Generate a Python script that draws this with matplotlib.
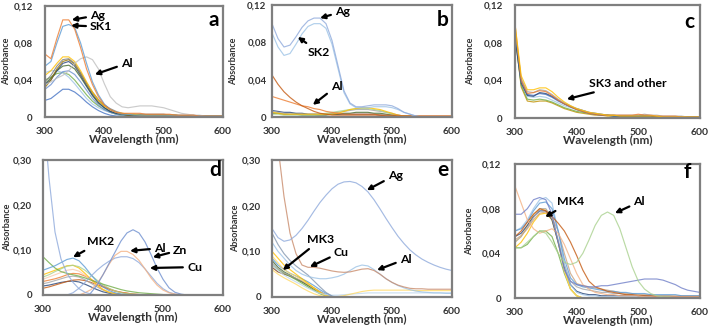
import matplotlib
matplotlib.use("Agg")
import matplotlib.pyplot as plt

plt.rcParams['font.family'] = ['Lato', 'DejaVu Sans']

X = list(range(300, 601, 10))

# ---------------- panel a ----------------
a_ag  = [.068,.063,.085,.105,.105,.095,.075,.052,.035,.022,.013,.008,.005,.004,.004,.004,.004,.003,.003,.003,.003,.003,.002,.002,.002,.002,.001,.001,.001,.001,.001]
a_sk1 = [.055,.060,.080,.098,.100,.097,.080,.058,.038,.024,.014,.008,.005,.003,.003,.002,.002,.002,.002,.002,.002,.002,.002,.001,.001,.001,.001,.001,.001,.001,.001]
a_al  = [.035,.038,.042,.045,.050,.058,.063,.065,.062,.052,.036,.022,.015,.011,.010,.011,.012,.012,.012,.011,.010,.008,.006,.004,.003,.002,.002,.001,.001,.001,.001]
a_c1  = [.045,.050,.058,.065,.065,.060,.050,.038,.027,.018,.012,.008,.005,.004,.003,.003,.002,.002,.002,.002,.002,.002,.002,.001,.001,.001,.001,.001,.001,.001,.001]
a_c2  = [.035,.040,.050,.058,.060,.055,.045,.034,.024,.016,.010,.006,.004,.003,.002,.002,.002,.001,.001,.001,.001,.001,.001,.001,.001,.001,.001,.001,.001,.001,.001]
a_c3  = [.040,.043,.047,.048,.046,.040,.032,.024,.017,.012,.008,.005,.003,.002,.002,.001,.001,.001,.001,.001,.001,.001,.001,.001,.001,.001,.001,.001,.001,.001,.001]
a_c4  = [.018,.020,.025,.030,.030,.027,.022,.016,.011,.007,.004,.002,.001,.001,.000,.000,.000,.000,.000,.000,.000,.000,.000,.000,.000,.000,.000,.000,.000,.000,.000]
a_c5  = [.038,.045,.055,.062,.063,.058,.048,.037,.027,.019,.013,.009,.006,.004,.003,.003,.003,.003,.003,.003,.003,.002,.002,.002,.002,.002,.001,.001,.001,.001,.001]
a_c6  = [.048,.050,.050,.048,.043,.036,.028,.020,.014,.010,.007,.005,.004,.003,.002,.002,.002,.002,.002,.001,.001,.001,.001,.001,.001,.001,.001,.001,.001,.001,.001]
a_c7  = [.032,.040,.052,.060,.062,.057,.047,.036,.026,.018,.012,.008,.005,.003,.002,.002,.002,.002,.002,.002,.002,.002,.002,.001,.001,.001,.001,.001,.001,.001,.001]
a_c8  = [.036,.042,.050,.055,.056,.052,.043,.033,.023,.015,.010,.006,.004,.003,.002,.002,.002,.002,.002,.002,.002,.001,.001,.001,.001,.001,.001,.001,.001,.001,.001]
a_c9  = [.030,.035,.043,.049,.050,.046,.038,.029,.020,.013,.008,.005,.003,.002,.002,.001,.001,.001,.001,.001,.001,.001,.001,.001,.001,.001,.001,.001,.001,.001,.001]
a_curves = [a_c4, a_c3, a_c6, a_c9, a_c8, a_c2, a_c7, a_c5, a_c1, a_al, a_sk1, a_ag]
a_colors = ['#4472C4', '#70AD47', '#9DC3E6', '#698ED0', '#43682B', '#264478', '#997300', '#7F7F7F', '#FFC000', '#BFBFBF', '#5B9BD5', '#ED7D31']

# ---------------- panel b ----------------
b_ag  = [.100,.084,.075,.077,.086,.096,.103,.106,.106,.100,.082,.055,.028,.015,.011,.011,.012,.013,.013,.013,.012,.009,.005,.003,.001,.000,.000,.000,.000,.000,.000]
b_sk2 = [.090,.075,.066,.068,.078,.089,.097,.100,.100,.095,.078,.052,.026,.014,.010,.010,.010,.011,.011,.011,.010,.008,.005,.003,.001,.000,.000,.000,.000,.000,.000]
b_o1  = [.045,.035,.027,.021,.016,.012,.009,.006,.004,.003,.002,.002,.002,.002,.002,.002,.002,.002,.002,.001,.001,.001,.001,.001,.001,.001,.001,.001,.001,.001,.001]
b_o2  = [.022,.020,.018,.016,.014,.012,.011,.009,.008,.006,.005,.004,.003,.003,.003,.003,.003,.003,.002,.002,.002,.002,.001,.001,.001,.001,.001,.001,.001,.001,.001]
b_y1  = [.005,.004,.003,.003,.003,.003,.003,.003,.003,.003,.003,.004,.006,.008,.009,.010,.010,.009,.008,.006,.004,.002,.001,.001,.000,.000,.000,.000,.000,.000,.000]
b_g1  = [.006,.005,.004,.003,.003,.003,.003,.003,.003,.003,.004,.005,.006,.007,.008,.008,.008,.007,.006,.005,.004,.002,.001,.001,.000,.000,.000,.000,.000,.000,.000]
b_gr  = [.004,.004,.003,.003,.003,.002,.002,.002,.002,.002,.003,.003,.004,.004,.005,.005,.005,.004,.004,.003,.002,.001,.001,.000,.000,.000,.000,.000,.000,.000,.000]
b_db  = [.007,.006,.005,.005,.004,.004,.003,.003,.003,.003,.003,.003,.003,.003,.003,.003,.003,.003,.002,.002,.002,.001,.001,.001,.000,.000,.000,.000,.000,.000,.000]
b_lg  = [.003,.003,.002,.002,.002,.002,.002,.002,.003,.004,.005,.006,.007,.008,.009,.009,.009,.008,.007,.005,.003,.002,.001,.000,.000,.000,.000,.000,.000,.000,.000]
b_curves = [b_db, b_gr, b_g1, b_lg, b_y1, b_o2, b_o1, b_sk2, b_ag]
b_colors = ['#264478', '#43682B', '#A5A5A5', '#A9D18E', '#FFC000', '#ED7D31', '#C55A11', '#9DC3E6', '#8FAADC']

# ---------------- panel c ----------------
c_1 = [.100,.045,.030,.030,.032,.032,.028,.022,.017,.013,.010,.008,.006,.005,.004,.003,.003,.002,.002,.002,.002,.002,.002,.002,.001,.001,.001,.001,.001,.001,.001]
c_2 = [.095,.042,.028,.027,.030,.029,.025,.020,.016,.013,.010,.008,.006,.005,.004,.003,.003,.003,.003,.003,.003,.004,.003,.003,.002,.002,.002,.002,.001,.001,.001]
c_3 = [.090,.040,.025,.024,.026,.025,.022,.018,.015,.012,.010,.008,.006,.005,.004,.003,.003,.002,.002,.002,.002,.002,.002,.001,.001,.001,.001,.001,.001,.001,.001]
c_4 = [.092,.038,.023,.022,.023,.022,.019,.016,.013,.011,.009,.007,.005,.004,.003,.003,.002,.002,.002,.002,.002,.002,.002,.001,.001,.001,.001,.001,.001,.001,.001]
c_5 = [.088,.035,.020,.019,.020,.019,.017,.014,.011,.009,.007,.006,.005,.004,.003,.003,.002,.002,.002,.002,.002,.002,.002,.001,.001,.001,.001,.001,.001,.001,.001]
c_6 = [.100,.040,.026,.027,.029,.028,.024,.019,.015,.012,.009,.007,.005,.004,.003,.003,.003,.003,.003,.003,.004,.003,.003,.002,.002,.002,.002,.001,.001,.001,.001]
c_7 = [.085,.037,.024,.023,.027,.026,.023,.019,.015,.012,.009,.007,.005,.004,.003,.003,.002,.002,.002,.002,.002,.002,.002,.001,.001,.001,.001,.001,.001,.001,.001]
c_8 = [.090,.033,.018,.017,.018,.018,.016,.013,.010,.008,.006,.005,.004,.003,.003,.002,.002,.002,.002,.002,.002,.002,.002,.001,.001,.001,.001,.001,.001,.001,.001]
c_curves = [c_8, c_5, c_4, c_3, c_7, c_2, c_6, c_1]
c_colors = ['#BF9000', '#70AD47', '#9DC3E6', '#4472C4', '#264478', '#A5A5A5', '#ED7D31', '#FFC000']

# ---------------- panel d ----------------
d_steep = [.420,.260,.140,.080,.048,.028,.014,.006,.002,.000,.000,.000,.000,.000,.000,.000,.000,.000,.000,.000,.000,.000,.000,.000,.000,.000,.000,.000,.000,.000,.000]
d_al  = [-.05,-.05,-.05,-.05,-.04,-.03,-.02,-.01,.005,.022,.045,.070,.095,.120,.138,.145,.138,.118,.090,.060,.035,.016,.006,.002,.000,.000,.000,.000,.000,.000,.000]
d_zn  = [-.03,-.03,-.03,-.02,-.01,-.005,.000,.005,.012,.025,.045,.068,.088,.097,.097,.090,.077,.058,.038,.022,.011,.005,.002,.001,.000,.000,.000,.000,.000,.000,.000]
d_cu  = [-.03,-.02,-.01,-.005,.000,.005,.015,.028,.042,.055,.066,.075,.082,.085,.085,.081,.072,.058,.042,.026,.014,.006,.002,.000,.000,.000,.000,.000,.000,.000,.000]
d_m1  = [.055,.060,.065,.072,.079,.082,.076,.062,.045,.030,.018,.010,.005,.002,.001,.000,.000,.000,.000,.000,.000,.000,.000,.000,.000,.000,.000,.000,.000,.000,.000]
d_m2  = [.085,.072,.060,.052,.048,.045,.042,.038,.033,.028,.024,.020,.016,.012,.009,.007,.005,.004,.003,.002,.001,.000,.000,.000,.000,.000,.000,.000,.000,.000,.000]
d_m3  = [.045,.050,.055,.060,.065,.066,.060,.048,.035,.022,.012,.006,.003,.001,.000,.000,.000,.000,.000,.000,.000,.000,.000,.000,.000,.000,.000,.000,.000,.000,.000]
d_m4  = [.040,.045,.052,.058,.064,.066,.063,.055,.044,.033,.023,.015,.009,.005,.003,.002,.001,.000,.000,.000,.000,.000,.000,.000,.000,.000,.000,.000,.000,.000,.000]
d_m5  = [.030,.033,.036,.040,.045,.048,.047,.042,.035,.027,.020,.014,.009,.006,.004,.002,.001,.000,.000,.000,.000,.000,.000,.000,.000,.000,.000,.000,.000,.000,.000]
d_m6  = [.025,.028,.032,.036,.040,.042,.040,.034,.026,.018,.011,.006,.003,.001,.000,.000,.000,.000,.000,.000,.000,.000,.000,.000,.000,.000,.000,.000,.000,.000,.000]
d_m7  = [.020,.022,.025,.028,.030,.031,.029,.024,.018,.012,.007,.004,.002,.001,.000,.000,.000,.000,.000,.000,.000,.000,.000,.000,.000,.000,.000,.000,.000,.000,.000]
d_m8  = [.035,.040,.045,.050,.055,.057,.053,.044,.033,.022,.013,.007,.003,.001,.000,.000,.000,.000,.000,.000,.000,.000,.000,.000,.000,.000,.000,.000,.000,.000,.000]
d_m9  = [.015,.018,.022,.026,.030,.033,.034,.032,.028,.023,.018,.013,.009,.006,.004,.002,.001,.000,.000,.000,.000,.000,.000,.000,.000,.000,.000,.000,.000,.000,.000]
d_curves = [d_m7, d_m9, d_m6, d_m5, d_m8, d_m3, d_m4, d_m2, d_m1, d_cu, d_zn, d_al, d_steep]
d_colors = ['#264478', '#C55A11', '#A5A5A5', '#ED7D31', '#F8CBAD', '#FFC000', '#A9D18E', '#70AD47', '#5B9BD5', '#8FAADC', '#F4B183', '#6E8FCF', '#8FAADC']

# ---------------- panel e ----------------
e_ag  = [.150,.130,.122,.125,.135,.150,.168,.188,.207,.223,.237,.247,.252,.253,.250,.242,.230,.213,.193,.172,.152,.133,.117,.103,.092,.083,.076,.070,.065,.061,.058]
e_cu  = [.450,.330,.220,.140,.095,.070,.065,.065,.063,.060,.057,.055,.054,.055,.058,.061,.062,.058,.050,.040,.032,.026,.022,.019,.018,.018,.017,.017,.017,.017,.017]
e_al  = [.120,.100,.085,.070,.058,.050,.045,.042,.040,.040,.042,.045,.050,.058,.066,.070,.068,.060,.050,.040,.032,.025,.020,.016,.013,.011,.010,.009,.009,.008,.008]
e_gray = [.140,.115,.095,.080,.068,.058,.048,.035,.022,.010,.002,-.003,-.005,-.005,-.004,-.003,-.002,-.001,.000,.000,.000,.000,.000,.000,.000,.000,.000,.000,.000,.000,.000]
e_m1  = [.100,.085,.070,.060,.050,.040,.030,.020,.010,.003,.000,-.002,-.002,-.001,.000,.000,.000,.000,.000,.000,.000,.000,.000,.000,.000,.000,.000,.000,.000,.000,.000]
e_m2  = [.080,.065,.055,.048,.040,.033,.025,.017,.009,.003,.000,-.002,-.003,-.003,-.002,-.001,.000,.000,.000,.000,.000,.000,.000,.000,.000,.000,.000,.000,.000,.000,.000]
e_m3  = [.085,.070,.060,.052,.046,.040,.033,.025,.016,.008,.002,.000,.000,.000,.000,.000,.000,.000,.000,.000,.000,.000,.000,.000,.000,.000,.000,.000,.000,.000,.000]
e_m4  = [.065,.055,.050,.046,.040,.034,.027,.019,.011,.004,.000,-.002,-.002,-.001,.000,.000,.000,.000,.000,.000,.000,.000,.000,.000,.000,.000,.000,.000,.000,.000,.000]
e_m5  = [.070,.060,.052,.045,.038,.030,.022,.014,.007,.002,.000,.000,.000,.000,.000,.000,.000,.000,.000,.000,.000,.000,.000,.000,.000,.000,.000,.000,.000,.000,.000]
e_m6  = [.075,.062,.053,.047,.041,.035,.028,.020,.012,.005,.001,.000,.000,.000,.000,.000,.000,.000,.000,.000,.000,.000,.000,.000,.000,.000,.000,.000,.000,.000,.000]
e_m7  = [.090,.075,.060,.052,.045,.037,.028,.019,.010,.003,.000,.000,.000,.000,.000,.000,.000,.000,.000,.000,.000,.000,.000,.000,.000,.000,.000,.000,.000,.000,.000]
e_yel = [.060,.050,.042,.035,.028,.020,.013,.007,.003,.001,.000,.001,.003,.006,.009,.012,.014,.015,.015,.015,.015,.015,.015,.015,.014,.014,.014,.014,.014,.014,.014]
e_low = [.070,.058,.048,.040,.033,.026,.019,.013,.008,.005,.004,.004,.005,.006,.007,.008,.009,.009,.009,.009,.009,.009,.009,.009,.009,.009,.009,.009,.009,.009,.009]
e_curves = [e_m4, e_m2, e_m5, e_m6, e_m3, e_m7, e_m1, e_low, e_yel, e_gray, e_al, e_cu, e_ag]
e_colors = ['#843C0C', '#43682B', '#70AD47', '#A5A5A5', '#5B9BD5', '#FFD966', '#FFC000', '#BDD7EE', '#FFD966', '#8497B0', '#9DC3E6', '#C98B6B', '#8FAADC']

# ---------------- panel f ----------------
f_al  = [.045,.045,.050,.055,.060,.058,.050,.040,.032,.030,.032,.040,.052,.065,.074,.077,.074,.062,.045,.028,.015,.008,.004,.002,.001,.001,.000,.000,.000,.000,.000]
f_mk4 = [.075,.075,.080,.088,.090,.088,.075,.050,.025,.015,.012,.011,.010,.010,.011,.011,.012,.013,.014,.015,.016,.017,.017,.017,.016,.014,.012,.009,.007,.006,.005]
f_or  = [.100,.085,.070,.062,.058,.060,.062,.058,.048,.035,.022,.012,.008,.005,.004,.003,.003,.002,.002,.002,.002,.001,.001,.001,.001,.001,.001,.001,.001,.001,.001]
f_br  = [.055,.060,.068,.075,.080,.078,.073,.067,.060,.050,.038,.025,.015,.010,.008,.006,.005,.004,.003,.003,.002,.002,.002,.001,.001,.001,.001,.001,.001,.001,.001]
f_c1  = [.060,.063,.070,.080,.088,.090,.085,.060,.030,.012,.005,.003,.002,.002,.001,.001,.001,.001,.001,.001,.001,.001,.001,.001,.001,.001,.001,.001,.001,.001,.001]
f_c2  = [.045,.050,.058,.068,.075,.076,.070,.050,.025,.008,.002,.000,.000,.000,.000,.000,.000,.000,.000,.000,.000,.000,.000,.000,.000,.000,.000,.000,.000,.000,.000]
f_c3  = [.050,.055,.063,.072,.080,.080,.072,.052,.030,.015,.010,.008,.007,.006,.005,.005,.004,.004,.003,.003,.003,.002,.002,.002,.002,.002,.001,.001,.001,.001,.001]
f_c4  = [.055,.058,.065,.073,.078,.078,.070,.050,.028,.012,.006,.004,.003,.003,.002,.002,.002,.002,.002,.002,.002,.002,.001,.001,.001,.001,.001,.001,.001,.001,.001]
f_c5  = [.045,.045,.048,.055,.060,.060,.055,.040,.022,.008,.002,.000,.000,.000,.000,.000,.000,.000,.000,.000,.000,.000,.000,.000,.000,.000,.000,.000,.000,.000,.000]
f_c6  = [.050,.055,.065,.075,.080,.079,.072,.050,.024,.008,.002,.000,.000,.000,.000,.000,.000,.000,.000,.000,.000,.000,.000,.000,.000,.000,.000,.000,.000,.000,.000]
f_c7  = [.060,.062,.068,.078,.085,.086,.080,.060,.035,.018,.012,.010,.009,.008,.007,.006,.006,.005,.005,.004,.004,.004,.003,.003,.003,.003,.003,.002,.002,.002,.002]
f_c8  = [.052,.056,.062,.070,.076,.077,.072,.060,.040,.022,.013,.011,.010,.009,.008,.007,.006,.005,.004,.004,.003,.003,.003,.002,.002,.002,.002,.002,.002,.002,.002]
f_curves = [f_c5, f_c2, f_c6, f_c4, f_c3, f_c8, f_c1, f_c7, f_br, f_or, f_mk4, f_al]
f_colors = ['#70AD47', '#FFC000', '#FFD966', '#264478', '#A5A5A5', '#C9A27E', '#9DC3E6', '#5B9BD5', '#C55A11', '#F4B183', '#6F7FC8', '#A9D18E']

small_ticks = [0, 0.04, 0.08, 0.12]
small_labels = ['0', '0,04', '0,08', '0,12']
big_ticks = [0, 0.10, 0.20, 0.30]
big_labels = ['0', '0,10', '0,20', '0,30']
x_ticks = [300, 400, 500, 600]

W, H = 710, 331
fig = plt.figure(figsize=(W / 100, H / 100), dpi=100)

def rect(l, r, t, b):
    return [l / W, (H - b) / H, (r - l) / W, (b - t) / H]

# (letter, rect, curves, colours, yticks, ylabels, letter pos, ytick pad, ylabel x (axes frac), notes)
panels = [
    ('a', rect(45, 223, 6, 117), a_curves, a_colors, small_ticks, small_labels, (0.95, 0.87), 9, -0.19,
     [('Ag', (376, 0.110), (345, 0.105)), ('SK1', (376, 0.0976), (344, 0.099)), ('Al', (428, 0.058), (384, 0.046))]),
    ('b', rect(272, 452, 5, 117), b_curves, b_colors, small_ticks, small_labels, (0.95, 0.87), 4, -0.19,
     [('Ag', (405, 0.113), (380, 0.106)), ('SK2', (360, 0.0696), (343, 0.0857)), ('Al', (398, 0.033), (368, 0.013))]),
    ('c', rect(515, 700, 5, 118), c_curves, c_colors, small_ticks, small_labels, (0.94, 0.85), 9, -0.215,
     [('SK3 and other', (420, 0.0364), (384, 0.020))]),
    ('d', rect(43, 223, 160, 295), d_curves, d_colors, big_ticks, big_labels, (0.955, 0.925), 8, -0.17,
     [('MK2', (373, 0.118), (350, 0.084)), ('Al', (485, 0.104), (445, 0.098)), ('Zn', (517, 0.100), (483, 0.084)), ('Cu', (540, 0.062), (478, 0.060))]),
    ('e', rect(272, 452, 160, 297), e_curves, e_colors, big_ticks, big_labels, (0.95, 0.93), 8, -0.175,
     [('Ag', (493, 0.267), (458, 0.234)), ('MK3', (358, 0.125), (318, 0.059)), ('Cu', (403, 0.0985), (363, 0.066)), ('Al', (513, 0.083), (475, 0.059))]),
    ('f', rect(515, 700, 164, 298), f_curves, f_colors, small_ticks, small_labels, (0.93, 0.94), 10, -0.22,
     [('MK4', (368, 0.086), (349, 0.0725)), ('Al', (492, 0.086), (462, 0.076))]),
]

for letter, pos, curves, colors, yt, yl, lpos, ypad, ylx, notes in panels:
    ax = fig.add_axes(pos)
    for vals, col in zip(curves, colors):
        ax.plot(X, vals, color=col, lw=0.85, alpha=0.8, solid_joinstyle='round')
    ax.set_xlim(300, 600)
    ax.set_ylim(yt[0], yt[-1])
    ax.set_xticks(x_ticks)
    ax.set_xticklabels([str(v) for v in x_ticks], fontsize=7.5, fontweight='bold', color='#333333')
    ax.set_yticks(yt)
    ax.set_yticklabels(yl, fontsize=7, fontweight='bold', color='#333333')
    ax.tick_params(axis='x', length=0, pad=7)
    ax.tick_params(axis='y', length=0, pad=ypad)
    for s in ax.spines.values():
        s.set_color('#7f7f7f')
        s.set_linewidth(1.6)
    ax.set_xlabel('Wavelength (nm)', fontsize=8.5, fontweight='bold', color='#333333', labelpad=-1)
    ax.set_ylabel('Absorbance', fontsize=6.5, fontweight='bold', color='#333333')
    ax.yaxis.set_label_coords(ylx, 0.5)
    ax.text(lpos[0], lpos[1], letter, transform=ax.transAxes, ha='center', va='center',
            fontsize=15, fontweight='bold', color='black')
    for txt, tpos, apos in notes:
        ax.annotate(txt, xy=apos, xytext=tpos, ha='left', va='center',
                    fontsize=8.8, fontweight='bold', color='black',
                    arrowprops=dict(arrowstyle='-|>', color='black', lw=1.6,
                                    mutation_scale=7, shrinkA=1, shrinkB=0))

fig.savefig('out.png', dpi=100)
